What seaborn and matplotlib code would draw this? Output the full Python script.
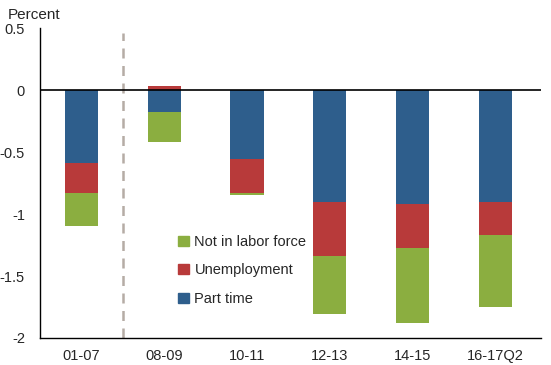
import matplotlib
matplotlib.use("agg")

import matplotlib.pyplot as plt
import seaborn as sns
import numpy as np

periods = ["01-07", "08-09", "10-11", "12-13", "14-15", "16-17Q2"]
part_time = [-0.59, -0.18, -0.56, -0.90, -0.92, -0.90]
unemployment = [-0.24, 0.03, -0.27, -0.44, -0.35, -0.27]
not_in_lf = [-0.27, -0.24, -0.02, -0.47, -0.61, -0.58]

series = [
    ("Part time", part_time, "#2e5e8c"),
    ("Unemployment", unemployment, "#b83a3a"),
    ("Not in labor force", not_in_lf, "#8bae40"),
]

sns.set_style("white")
plt.rcParams["font.family"] = ["Liberation Sans", "DejaVu Sans"]
plt.rcParams["font.size"] = 10.5

fig = plt.figure(figsize=(5.51, 3.65), dpi=100)
ax = fig.add_axes([0.073, 0.074, 0.908, 0.849])

pos_base = np.zeros(len(periods))
neg_base = np.zeros(len(periods))
handles = {}
for name, vals, color in series:
    vals = np.array(vals)
    bottom = np.where(vals >= 0, pos_base, neg_base)
    sns.barplot(x=periods, y=vals, bottom=bottom, color=color, width=0.4,
                saturation=1, linewidth=0, ax=ax)
    pos_base = pos_base + np.clip(vals, 0, None)
    neg_base = neg_base + np.clip(vals, None, 0)
    handles[name] = plt.Rectangle((0, 0), 1, 1, color=color)

ax.axhline(0, color="black", linewidth=1.2, zorder=3)
ax.vlines(0.5, -2, 0.46, color="#b5aca5", linestyle=(0, (4, 3)), linewidth=1.8, zorder=1)

ax.set_xlim(-0.5, 5.55)
ax.set_ylim(-2, 0.5)
ax.set_yticks([0.5, 0, -0.5, -1, -1.5, -2])
ax.set_yticklabels(["0.5", "0", "-0.5", "-1", "-1.5", "-2"])
ax.set_xticks(np.arange(-0.5, 6, 1))
ax.set_xticklabels([])
ax.set_xticks(np.arange(len(periods)), minor=True)
ax.set_xticklabels(periods, minor=True)
ax.tick_params(axis="x", which="major", length=5, width=1, color="black", direction="out")
ax.tick_params(axis="x", which="minor", length=0, pad=8)
ax.tick_params(axis="y", length=5, width=1, color="black", direction="out", pad=6)
ax.set_xlabel("")
ax.set_ylabel("")

sns.despine(ax=ax)
for side in ["left", "bottom"]:
    ax.spines[side].set_color("black")
    ax.spines[side].set_linewidth(1)

fig.text(0.014, 0.96, "Percent", fontsize=11, ha="left", va="center")

names = ["Not in labor force", "Unemployment", "Part time"]
ax.legend([handles[n] for n in names], names, loc="upper left",
          bbox_to_anchor=(0.25, 0.375), frameon=False, handlelength=0.7,
          handleheight=0.7, handletextpad=0.4, labelspacing=1.0, fontsize=10.5)

fig.savefig("out.png", dpi=100)
